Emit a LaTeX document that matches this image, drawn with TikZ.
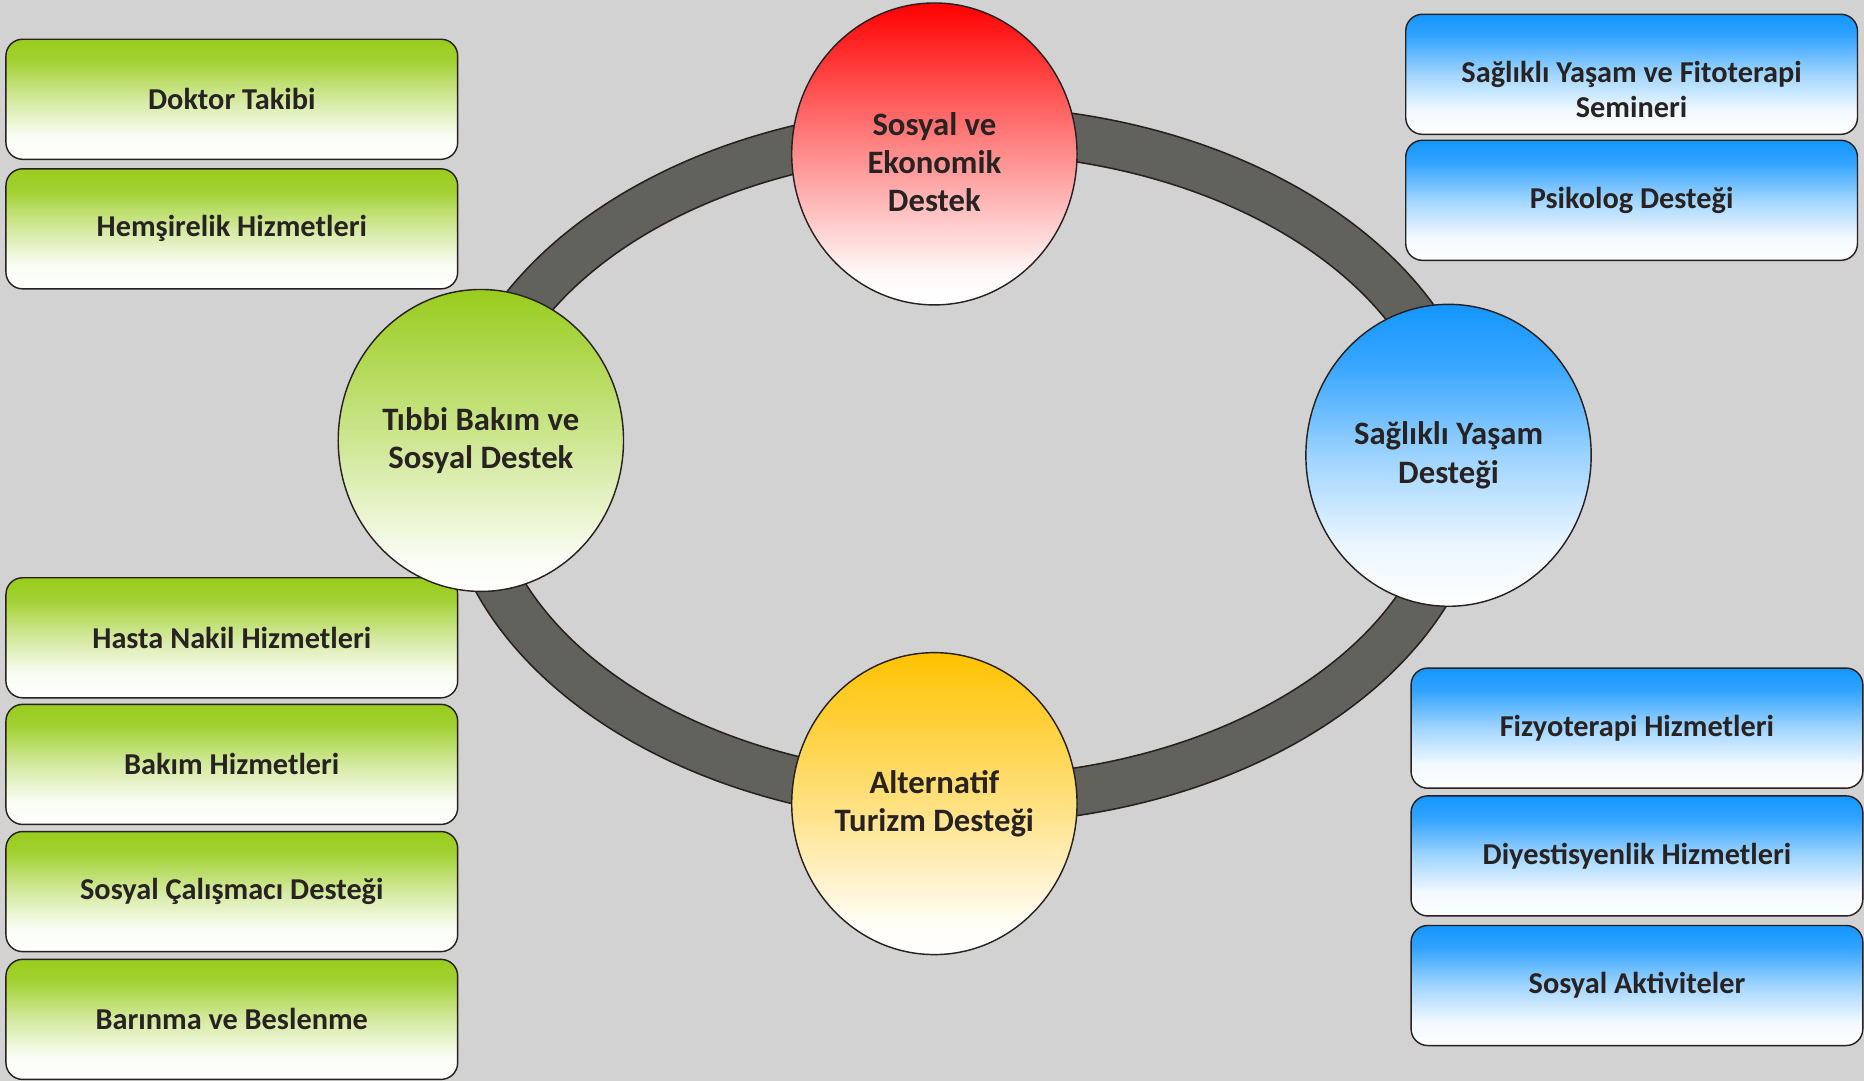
\documentclass[tikz,border=0pt]{standalone}
\usepackage{fontspec}
\setmainfont{Carlito}
\usetikzlibrary{shapes.geometric}
\definecolor{bgc}{RGB}{210,210,210}
\definecolor{ringc}{RGB}{98,98,92}
\definecolor{edgec}{RGB}{40,32,32}
\definecolor{txtc}{RGB}{40,34,34}
\definecolor{gtop}{RGB}{152,204,28}
\definecolor{btop}{RGB}{20,150,255}
\definecolor{rtop}{RGB}{255,0,0}
\definecolor{ytop}{RGB}{255,194,0}
% path spans 25bp (bottom) .. 75bp (top)
\pgfdeclareverticalshading{gfade}{100bp}{color(0bp)=(white); color(25bp)=(white); color(35bp)=(gtop!5!white); color(50bp)=(gtop!42!white); color(66bp)=(gtop!90!white); color(75bp)=(gtop); color(100bp)=(gtop)}
\pgfdeclareverticalshading{bfade}{100bp}{color(0bp)=(white); color(25bp)=(white); color(35bp)=(btop!6!white); color(50bp)=(btop!40!white); color(66bp)=(btop!88!white); color(75bp)=(btop); color(100bp)=(btop)}
\pgfdeclareverticalshading{rfade}{100bp}{color(0bp)=(white); color(25bp)=(white); color(30bp)=(rtop!2!white); color(50bp)=(rtop!45!white); color(75bp)=(rtop); color(100bp)=(rtop)}
\pgfdeclareverticalshading{yfade}{100bp}{color(0bp)=(white); color(25bp)=(white); color(30bp)=(ytop!3!white); color(50bp)=(ytop!50!white); color(75bp)=(ytop); color(100bp)=(ytop)}
\pgfdeclareverticalshading{cgfade}{100bp}{color(0bp)=(white); color(25bp)=(white); color(30bp)=(gtop!4!white); color(50bp)=(gtop!48!white); color(75bp)=(gtop); color(100bp)=(gtop)}
\pgfdeclareverticalshading{cbfade}{100bp}{color(0bp)=(white); color(25bp)=(white); color(35bp)=(btop!8!white); color(50bp)=(btop!42!white); color(65bp)=(btop!85!white); color(75bp)=(btop); color(100bp)=(btop)}
\tikzset{
  circ/.style={ellipse, draw=edgec, line width=1.2pt, minimum width=240pt, minimum height=254pt,
    inner sep=0pt, align=center, font=\fontsize{27.5}{32}\selectfont\bfseries, text=txtc},
  boxbase/.style={rectangle, rounded corners=14pt, draw=edgec, line width=1.2pt, minimum width=380pt,
    minimum height=101pt, inner sep=0pt, align=center, font=\fontsize{25.5}{29}\selectfont\bfseries, text=txtc},
  gbox/.style={boxbase, shading=gfade},
  bbox/.style={boxbase, shading=bfade},
}
\begin{document}
\begin{tikzpicture}[x=1pt,y=-1pt]
\fill[bgc] (0,0) rectangle (1568,909.3);
\useasboundingbox (0,0) rectangle (1568,909.3);
% ring
\fill[ringc, draw=edgec, line width=1.3pt, even odd rule]
  (812,391) ellipse [x radius=440, y radius=302]
  (812,391) ellipse [x radius=400, y radius=262];
% green boxes
\node[gbox] (g1) at (195,83.5) {Doktor Takibi};
\node[gbox] (g2) at (195,192.5) {Hemşirelik Hizmetleri};
\node[gbox] (g3) at (195,536.5) {Hasta Nakil Hizmetleri};
\node[gbox] (g4) at (195,643) {Bakım Hizmetleri};
\node[gbox] (g5) at (195,750) {Sosyal Çalışmacı Desteği};
\node[gbox] (g6) at (195,857.5) {Barınma ve Beslenme};
% blue boxes
\node[bbox] (b1) at (1372.5,62.5) {\raisebox{-16pt}[\height][\depth]{\begin{tabular}{@{}c@{}}Sağlıklı Yaşam ve Fitoterapi\\Semineri\end{tabular}}};
\node[bbox] (b2) at (1372.5,168.5) {Psikolog Desteği};
\node[bbox] (b3) at (1377,612.5) {Fizyoterapi Hizmetleri};
\node[bbox] (b4) at (1377,720) {Diyestisyenlik Hizmetleri};
\node[bbox] (b5) at (1377,829) {Sosyal Aktiviteler};
% circles
\node[circ, shading=rfade] (sed) at (786,129.5) {\raisebox{-10pt}[\height][\depth]{\begin{tabular}{@{}c@{}}Sosyal ve\\Ekonomik\\Destek\end{tabular}}};
\node[circ, shading=cgfade] (tbs) at (404.5,370.5) {Tıbbi Bakım ve\\Sosyal Destek};
\node[circ, shading=cbfade] (syd) at (1218.5,383) {Sağlıklı Yaşam\\Desteği};
\node[circ, shading=yfade] (atd) at (786,676) {Alternatif\\Turizm Desteği};
\end{tikzpicture}
\end{document}
